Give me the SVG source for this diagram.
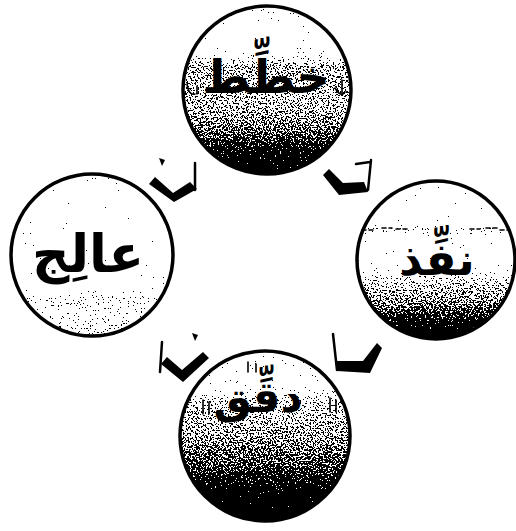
<svg xmlns="http://www.w3.org/2000/svg" width="516" height="531" viewBox="0 0 516 531">
<style>
.ring{stroke:#000;stroke-width:3.5}
.lbl{font-family:"DejaVu Sans",sans-serif;font-weight:bold;fill:#000;text-anchor:middle}
.thin{fill:none;stroke:#000;stroke-width:2.5;stroke-linecap:round}
.frag{fill:none;stroke:#000;stroke-width:1.6;stroke-linecap:round}
.thick{fill:#000}
</style>
<defs>
<filter id="grain" x="0" y="0" width="100%" height="100%" color-interpolation-filters="sRGB">
<feTurbulence type="fractalNoise" baseFrequency="0.6" numOctaves="2" seed="7" result="n"/>
<feColorMatrix in="n" type="matrix" values="1 0 0 0 0  1 0 0 0 0  1 0 0 0 0  0 0 0 0 1" result="g"/>
<feComposite in="SourceGraphic" in2="g" operator="arithmetic" k1="0" k2="1" k3="1.6" k4="-0.8" result="s"/>
<feComponentTransfer in="s" result="t">
<feFuncR type="discrete" tableValues="0 1"/>
<feFuncG type="discrete" tableValues="0 1"/>
<feFuncB type="discrete" tableValues="0 1"/>
</feComponentTransfer>
<feComposite in="t" in2="SourceGraphic" operator="in"/>
</filter>
<linearGradient id="gTop" x1="0" y1="0" x2="0" y2="1">
<stop offset="0" stop-color="#d0d0d0"/>
<stop offset="0.12" stop-color="#ffffff"/>
<stop offset="0.28" stop-color="#f0f0f0"/>
<stop offset="0.36" stop-color="#989898"/>
<stop offset="0.52" stop-color="#a0a0a0"/>
<stop offset="0.62" stop-color="#989898"/>
<stop offset="0.76" stop-color="#707070"/>
<stop offset="0.88" stop-color="#282828"/>
<stop offset="1" stop-color="#000000"/>
</linearGradient>
<linearGradient id="gRight" x1="0" y1="0" x2="0" y2="1">
<stop offset="0" stop-color="#ffffff"/>
<stop offset="0.26" stop-color="#ffffff"/>
<stop offset="0.31" stop-color="#c8c8c8"/>
<stop offset="0.36" stop-color="#ffffff"/>
<stop offset="0.55" stop-color="#f0f0f0"/>
<stop offset="0.64" stop-color="#b0b0b0"/>
<stop offset="0.78" stop-color="#808080"/>
<stop offset="0.9" stop-color="#303030"/>
<stop offset="1" stop-color="#000000"/>
</linearGradient>
<linearGradient id="gLeft" x1="0" y1="0" x2="0" y2="1">
<stop offset="0" stop-color="#eeeeee"/>
<stop offset="0.08" stop-color="#ffffff"/>
<stop offset="0.7" stop-color="#ffffff"/>
<stop offset="0.76" stop-color="#cccccc"/>
<stop offset="0.86" stop-color="#d8d8d8"/>
<stop offset="1" stop-color="#bcbcbc"/>
</linearGradient>
<linearGradient id="gBottom" x1="0" y1="0" x2="0" y2="1">
<stop offset="0" stop-color="#e4e4e4"/>
<stop offset="0.2" stop-color="#eeeeee"/>
<stop offset="0.3" stop-color="#b0b0b0"/>
<stop offset="0.5" stop-color="#909090"/>
<stop offset="0.68" stop-color="#606060"/>
<stop offset="0.84" stop-color="#161616"/>
<stop offset="1" stop-color="#000000"/>
</linearGradient>
</defs>
<rect width="516" height="531" fill="#fff"/>

<g id="node-plan">
<circle cx="267" cy="90" r="84" fill="url(#gTop)" filter="url(#grain)"/>
<circle class="ring" cx="267" cy="90" r="84" fill="none"/>
<path class="frag" d="M187 84 q2 12 8 10 M197 86 v8 M335 88 q6 10 10 4 M342 80 v14"/>
<text class="lbl" x="266" y="93" font-size="46">خطِّط</text>
</g>

<g id="node-do">
<circle cx="436" cy="260" r="79" fill="url(#gRight)" filter="url(#grain)"/>
<circle class="ring" cx="436" cy="260" r="79" fill="none"/>
<path class="frag" d="M362 230 h14 M382 228 h10 M396 229 h12 M470 229 h10 M486 228 h12 M500 230 h10" stroke-dasharray="4 3"/>
<text class="lbl" x="437" y="275" font-size="45">نفِّذ</text>
</g>

<g id="node-act">
<circle cx="92" cy="255" r="81" fill="url(#gLeft)" filter="url(#grain)"/>
<circle class="ring" cx="92" cy="255" r="81" fill="none"/>
<text class="lbl" x="88" y="272" font-size="52">عالِج</text>
</g>

<g id="node-check">
<circle cx="265" cy="436" r="85" fill="url(#gBottom)" filter="url(#grain)"/>
<circle class="ring" cx="265" cy="436" r="85" fill="none"/>
<path class="frag" d="M203 400 v14 M209 402 v12 M330 398 v14 M336 400 v12 M248 362 v10 M256 364 v8"/>
<text class="lbl" x="258" y="412" font-size="43">دقِّق</text>
</g>

<g id="connectors">
<path class="thick" d="M323 175 L329 169 L343 183 L364 182 L368 192 L339 195 Z"/>
<path class="thin" d="M368 190 L371 160 M356 164 L370 162"/>
<path class="thin" d="M333 334 L337 370"/>
<path class="thick" d="M336 361 L363 361 L377 343 L382 348 L370 373 L337 371 Z"/>
<path class="thin" d="M162 342 L160 372"/>
<path class="thick" d="M161 364 L167 357 L182 370 L203 352 L209 358 L183 382 Z"/>
<path class="thick" d="M192 333 L198 335 L195 341 Z"/>
<path class="thin" d="M195 190 L195 163"/>
<path class="thick" d="M149 184 L155 177 L173 193 L190 182 L197 189 L174 202 Z"/>
<path class="thick" d="M159 158 L165 160 L162 166 Z"/>
</g>
</svg>
